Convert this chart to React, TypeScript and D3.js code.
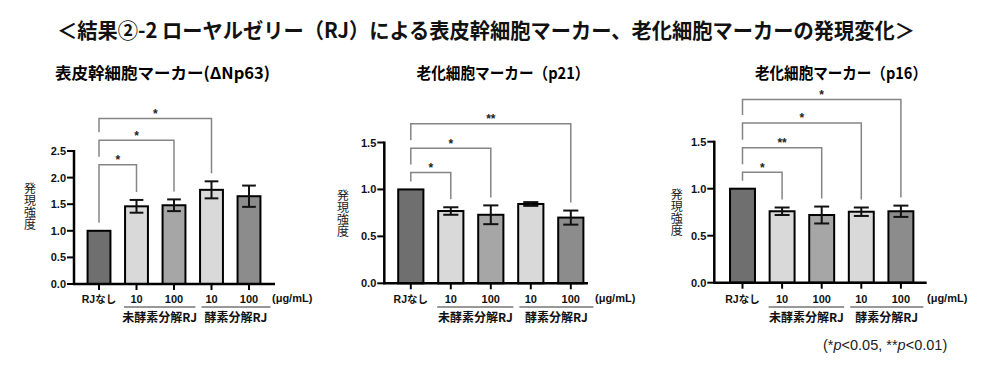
import * as d3 from "d3";

// ---- data ----
const categories = ["none", "u10", "u100", "e10", "e100"];
const doseLabels = ["RJなし", "10", "100", "10", "100"];
const groupLabels = ["未酵素分解RJ", "酵素分解RJ"];
const barFills = ["#6f6f6f", "#d9d9d9", "#a6a6a6", "#d9d9d9", "#8c8c8c"];

const np63Mean = [1.0, 1.46, 1.48, 1.77, 1.65];
const np63Err = [0, 0.12, 0.11, 0.16, 0.2];
const np63Ticks = [0, 0.5, 1.0, 1.5, 2.0, 2.5];
const np63SigTo = [1, 2, 3];
const np63SigLevel = [2.24, 2.7, 3.11];
const np63SigMark = ["*", "*", "*"];

const p21Mean = [1.0, 0.77, 0.73, 0.845, 0.7];
const p21Err = [0, 0.04, 0.1, 0.02, 0.075];
const p21Ticks = [0, 0.5, 1.0, 1.5];
const p21SigTo = [1, 2, 4];
const p21SigLevel = [1.18, 1.44, 1.7];
const p21SigMark = ["*", "*", "**"];

const p16Mean = [1.0, 0.76, 0.72, 0.755, 0.76];
const p16Err = [0, 0.04, 0.09, 0.045, 0.06];
const p16Ticks = [0, 0.5, 1.0, 1.5];
const p16SigTo = [1, 2, 3, 4];
const p16SigLevel = [1.175, 1.436, 1.7, 1.95];
const p16SigMark = ["*", "**", "*", "*"];

const FONT = "'Liberation Sans', Arial, 'Noto Sans CJK JP', sans-serif";
const JP = "'Noto Sans CJK JP', 'Liberation Sans', sans-serif";

type PanelProps = {
  title: string;
  titleX: number;
  titleW: number;
  mean: number[];
  err: number[];
  ticks: number[];
  sigTo: number[];
  sigLevel: number[];
  sigMark: string[];
  axisX: number;
  axisEnd: number;
  y0: number;
  yTop: number;
  bandRange: [number, number];
  pad: number;
  yLabelX: number;
  yLabelY: number;
  unitX: number;
};

function Panel(p: PanelProps) {
  const yMax = p.ticks[p.ticks.length - 1];
  const y = d3.scaleLinear().domain([0, yMax]).range([p.y0, p.yTop]);
  const x = d3
    .scaleBand<string>()
    .domain(categories)
    .range(p.bandRange)
    .paddingInner(p.pad)
    .paddingOuter(p.pad / 2);
  const bw = x.bandwidth();
  const cx = (i: number) => (x(categories[i]) ?? 0) + bw / 2;
  const cap = bw * 0.3;

  const g1a = (x(categories[1]) ?? 0) - 1;
  const g1b = (x(categories[2]) ?? 0) + bw + 10;
  const g2a = g1b + 6;
  const g2b = (x(categories[4]) ?? 0) + bw + 10;

  return (
    <g>
      <text
        x={p.titleX}
        y={79}
        textAnchor="middle"
        fontFamily={JP}
        fontWeight={700}
        fontSize={16}
        textLength={p.titleW}
        lengthAdjust="spacingAndGlyphs"
      >
        {p.title}
      </text>

      {/* y label, written top to bottom */}
      <text
        x={p.yLabelX}
        y={p.yLabelY}
        textAnchor="middle"
        fontFamily={JP}
        fontSize={12}
        fill="#222"
        style={{ writingMode: "vertical-rl" }}
      >
        発現強度
      </text>

      {/* bars */}
      {p.mean.map((v, i) => (
        <rect
          key={i}
          x={x(categories[i])}
          y={y(v)}
          width={bw}
          height={p.y0 - y(v)}
          fill={barFills[i]}
          stroke="#000"
          strokeWidth={2}
        />
      ))}

      {/* error bars */}
      {p.mean.map((v, i) =>
        p.err[i] > 0 ? (
          <g key={i} stroke="#111" strokeWidth={2}>
            <line x1={cx(i)} x2={cx(i)} y1={y(v + p.err[i])} y2={y(v - p.err[i])} />
            <line x1={cx(i) - cap} x2={cx(i) + cap} y1={y(v + p.err[i])} y2={y(v + p.err[i])} />
            <line x1={cx(i) - cap} x2={cx(i) + cap} y1={y(v - p.err[i])} y2={y(v - p.err[i])} />
          </g>
        ) : null
      )}

      {/* axes */}
      <line x1={p.axisX} x2={p.axisX} y1={p.yTop - 1} y2={p.y0 + 1} stroke="#000" strokeWidth={2.5} />
      <line x1={p.axisX - 1} x2={p.axisEnd} y1={p.y0} y2={p.y0} stroke="#000" strokeWidth={2.5} />
      {p.ticks.map((t) => (
        <g key={t}>
          <line x1={p.axisX - 7} x2={p.axisX} y1={y(t)} y2={y(t)} stroke="#000" strokeWidth={2} />
          <text
            x={p.axisX - 8}
            y={y(t)}
            textAnchor="end"
            dominantBaseline="central"
            fontFamily={FONT}
            fontWeight={700}
            fontSize={11}
            fill="#111"
          >
            {d3.format(".1f")(t)}
          </text>
        </g>
      ))}
      {categories.map((c, i) => (
        <line key={c} x1={cx(i)} x2={cx(i)} y1={p.y0} y2={p.y0 + 6} stroke="#000" strokeWidth={2} />
      ))}

      {/* x labels */}
      {doseLabels.map((l, i) => (
        <text
          key={i}
          x={cx(i)}
          y={303}
          textAnchor="middle"
          fontFamily={FONT}
          fontWeight={700}
          fontSize={i === 0 ? 10.5 : 11}
          fill="#111"
        >
          {l}
        </text>
      ))}
      <text x={p.unitX} y={302} fontFamily={FONT} fontWeight={700} fontSize={11} fill="#111">
        (μg/mL)
      </text>
      <line x1={g1a} x2={g1b} y1={307} y2={307} stroke="#333" strokeWidth={1.2} />
      <line x1={g2a} x2={g2b} y1={307} y2={307} stroke="#333" strokeWidth={1.2} />
      <text x={(g1a + g1b) / 2} y={322} textAnchor="middle" fontFamily={JP} fontWeight={700} fontSize={12} fill="#111">
        {groupLabels[0]}
      </text>
      <text x={(g2a + g2b) / 2} y={322} textAnchor="middle" fontFamily={JP} fontWeight={700} fontSize={12} fill="#111">
        {groupLabels[1]}
      </text>

      {/* significance brackets */}
      {p.sigTo.map((to, k) => {
        const top = y(p.sigLevel[k]);
        const leftBottom = k === 0 ? y(p.mean[0]) - 8 : y(p.sigLevel[k - 1]) - 8;
        const rightBottom = y(p.mean[to] + p.err[to]) - 8;
        return (
          <g key={k}>
            <path
              d={`M${cx(0)},${leftBottom}V${top}H${cx(to)}V${rightBottom}`}
              fill="none"
              stroke="#858585"
              strokeWidth={1.5}
            />
            <text
              x={(cx(0) + cx(to)) / 2}
              y={top - 0.5}
              textAnchor="middle"
              fontFamily={FONT}
              fontWeight={700}
              fontSize={12}
              fill="#222"
            >
              {p.sigMark[k]}
            </text>
          </g>
        );
      })}
    </g>
  );
}

export default function App() {
  return (
    <svg
      width={986}
      height={374}
      style={{ position: "absolute", left: 0, top: 0, background: "#fff" }}
    >
      <text
        x={57}
        y={38}
        fontFamily={JP}
        fontWeight={700}
        fontSize={21}
        textLength={858}
        lengthAdjust="spacingAndGlyphs"
        fill="#111"
      >
        ＜結果②-2 ローヤルゼリー（RJ）による表皮幹細胞マーカー、老化細胞マーカーの発現変化＞
      </text>

      <Panel
        title="表皮幹細胞マーカー(ΔNp63)"
        titleX={162.5}
        titleW={215}
        mean={np63Mean}
        err={np63Err}
        ticks={np63Ticks}
        sigTo={np63SigTo}
        sigLevel={np63SigLevel}
        sigMark={np63SigMark}
        axisX={74}
        axisEnd={275}
        y0={284}
        yTop={151}
        bandRange={[80.25, 267.75]}
        pad={0.39}
        yLabelX={30}
        yLabelY={206}
        unitX={272}
      />
      <Panel
        title="老化細胞マーカー（p21）"
        titleX={503}
        titleW={173}
        mean={p21Mean}
        err={p21Err}
        ticks={p21Ticks}
        sigTo={p21SigTo}
        sigLevel={p21SigLevel}
        sigMark={p21SigMark}
        axisX={384.3}
        axisEnd={588}
        y0={283.3}
        yTop={142.5}
        bandRange={[390.8, 590.8]}
        pad={0.37}
        yLabelX={343}
        yLabelY={213}
        unitX={595}
      />
      <Panel
        title="老化細胞マーカー（p16）"
        titleX={841}
        titleW={172}
        mean={p16Mean}
        err={p16Err}
        ticks={p16Ticks}
        sigTo={p16SigTo}
        sigLevel={p16SigLevel}
        sigMark={p16SigMark}
        axisX={714.3}
        axisEnd={926.7}
        y0={282.7}
        yTop={141.7}
        bandRange={[722.7, 920.7]}
        pad={0.37}
        yLabelX={676.7}
        yLabelY={212}
        unitX={927}
      />

      <text x={823} y={350} fontFamily={FONT} fontSize={14.5} fill="#222">
        (*<tspan fontStyle="italic">p</tspan>&lt;0.05, **<tspan fontStyle="italic">p</tspan>&lt;0.01)
      </text>
    </svg>
  );
}
